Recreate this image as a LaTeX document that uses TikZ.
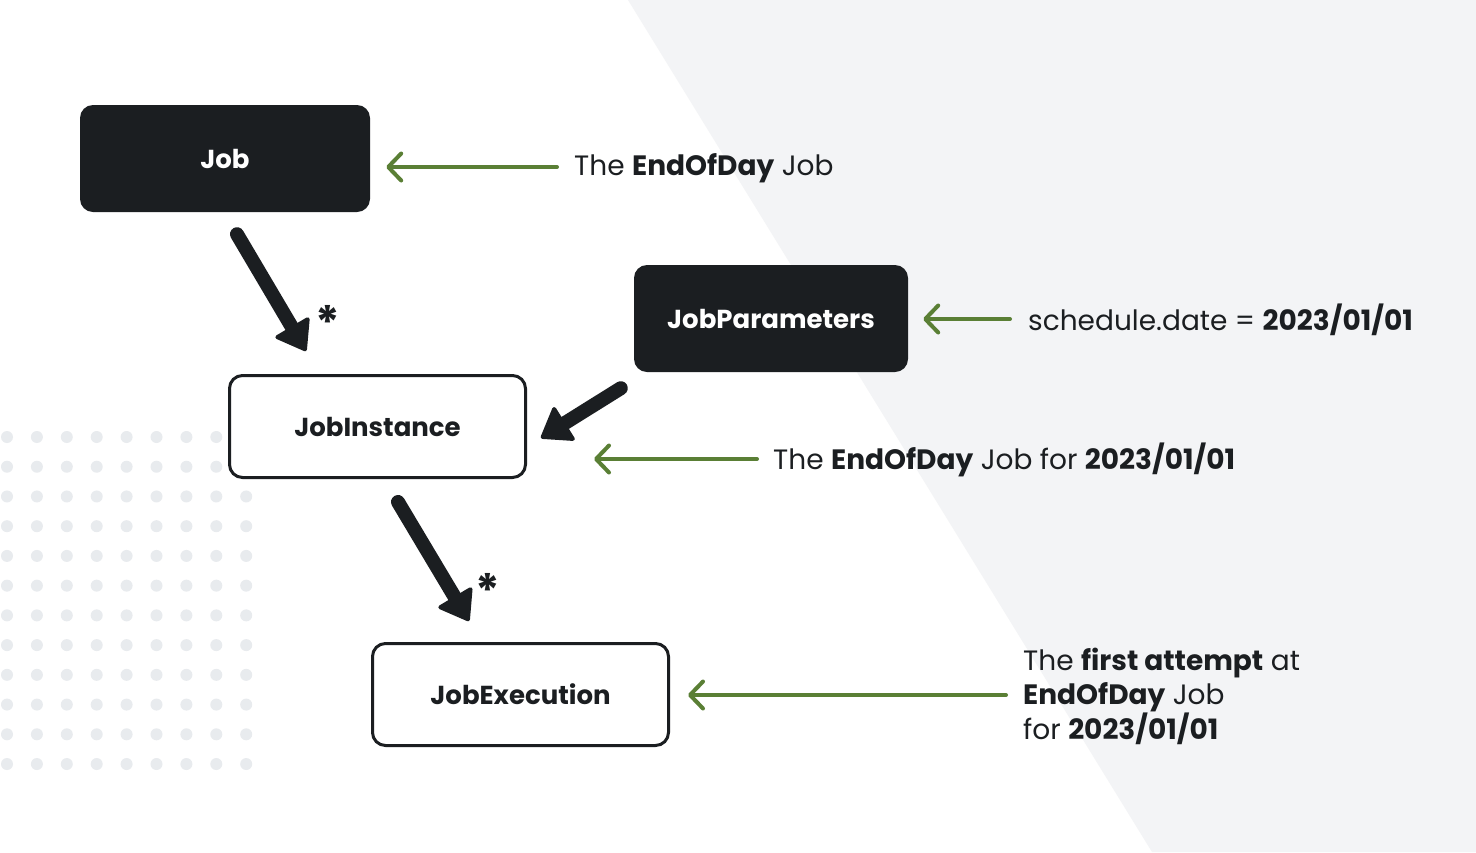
\documentclass[tikz,border=0pt]{standalone}
\usepackage{fontspec}
\setmainfont{Poppins}
\usetikzlibrary{arrows.meta,calc}
\definecolor{ink}{HTML}{1B1E21}
\definecolor{leaf}{HTML}{5A7F35}
\definecolor{panel}{HTML}{F3F4F6}
\definecolor{dotgray}{HTML}{E8EBEE}
\begin{document}
\begin{tikzpicture}[x=1pt,y=-1pt,
  darkbox/.style={rectangle, rounded corners=13pt, fill=ink, text=white,
    font=\fontsize{26}{30}\selectfont\bfseries, minimum width=#1,
    minimum height=107pt, inner sep=0pt},
  lightbox/.style={rectangle, rounded corners=13pt, fill=white, draw=ink,
    line width=3pt, text=ink, font=\fontsize{26}{30}\selectfont\bfseries,
    minimum width=296pt, minimum height=102pt, inner sep=0pt},
  lbl/.style={anchor=west, inner sep=0pt, text=ink,
    font=\fontsize{28}{34}\selectfont, align=left},
  mult/.style={anchor=north, inner sep=0pt, text=ink,
    font=\fontsize{46}{46}\selectfont\bfseries},
  bigarrow/.style={draw=ink, line width=14pt, line cap=round,
    -{Triangle[length=30pt,width=42pt,line width=4pt,round]}},
  greenarrow/.style={draw=leaf, line width=4pt, line cap=round,
    -{Straight Barb[length=13pt,width=27pt,line width=4pt,round]}}]

% canvas and background panel
\fill[white] (0,0) rectangle (1476,852);
\useasboundingbox (0,0) rectangle (1476,852);
\fill[panel] (628,0) -- (1476,0) -- (1476,852) -- (1152,852) -- cycle;

% dot grid
\foreach \i in {0,...,8}
  \foreach \j in {0,...,11}
    \fill[dotgray] (7+29.9*\i, 437+29.73*\j) circle (6pt);

% entities
\node[darkbox=290pt] (job) at (225,158.5) {Job};
\node[darkbox=274pt] (params) at (771,318.5) {JobParameters};
\node[lightbox] (inst) at (377.5,426.5) {JobInstance};
\node[lightbox] (exec) at (520.5,694.5) {JobExecution};

% descriptions
\node[lbl] (d1) at (574,168) {The \textbf{EndOfDay} Job};
\node[lbl] (d2) at (1028,320) {schedule.date = \textbf{2023/01/01}};
\node[lbl] (d3) at (773,460) {The \textbf{EndOfDay} Job for \textbf{2023/01/01}};
\node[lbl] (d4) at (1023,696) {The \textbf{first attempt} at\\\textbf{EndOfDay} Job\\for \textbf{2023/01/01}};

% relations
\draw[bigarrow] ([xshift=12pt,yshift=-22pt]job.south)
  -- ([xshift=-71.5pt,yshift=23pt]inst.north);
\draw[bigarrow] ([xshift=20.5pt,yshift=-23pt]inst.south)
  -- ([xshift=-51.5pt,yshift=21pt]exec.north);
\draw[bigarrow] ([xshift=-13pt,yshift=-16pt]params.south west)
  -- ([xshift=14pt,yshift=-11.5pt]inst.east);

% multiplicities
\node[mult] (m1) at (328,305) {*};
\node[mult] (m2) at (488,573) {*};

% annotation pointers
\draw[greenarrow] ([xshift=-17pt,yshift=1pt]d1.west) -- ([xshift=16pt,yshift=1pt]job.east |- d1.west);
\draw[greenarrow] ([xshift=-18pt,yshift=1pt]d2.west) -- ([xshift=15pt,yshift=1pt]params.east |- d2.west);
\draw[greenarrow] ([xshift=-16pt,yshift=1pt]d3.west) -- ([xshift=67pt,yshift=1pt]inst.east |- d3.west);
\draw[greenarrow] ([xshift=-17pt,yshift=1pt]d4.west) -- ([xshift=18pt,yshift=1pt]exec.east |- d4.west);
\end{tikzpicture}
\end{document}
